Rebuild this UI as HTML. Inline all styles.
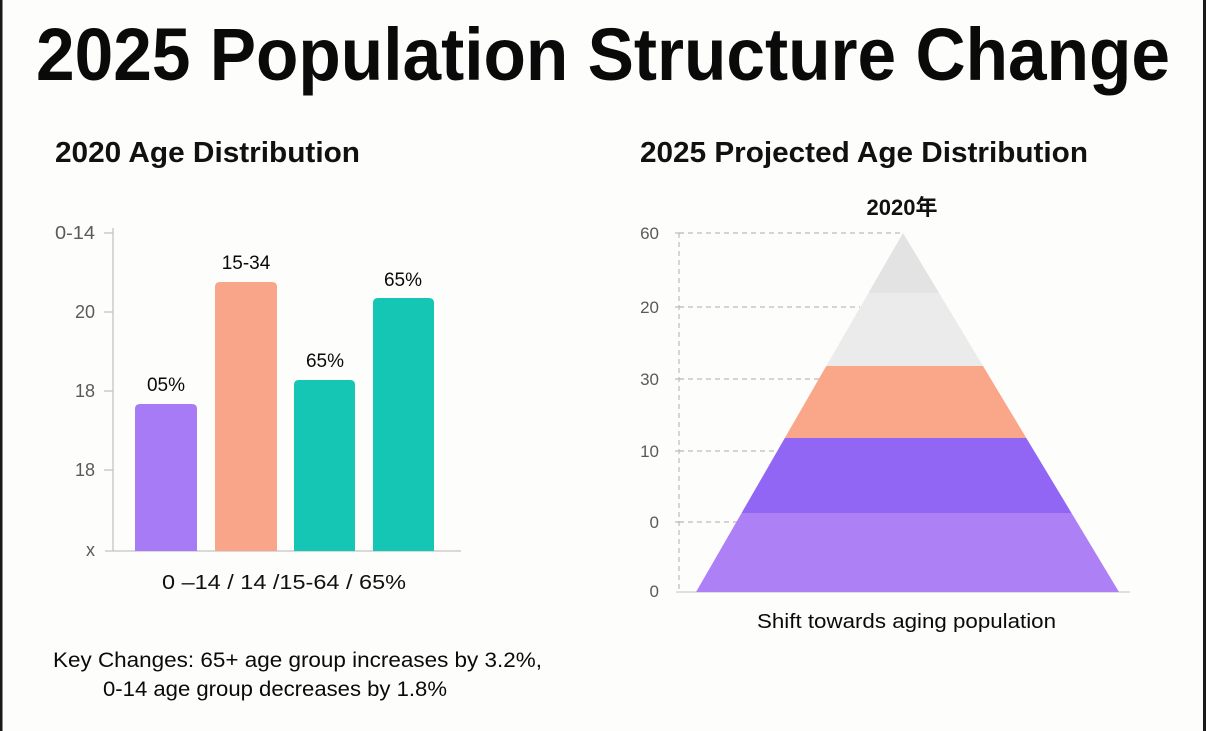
<!DOCTYPE html>
<html>
<head>
<meta charset="utf-8">
<style>
  html, body { margin:0; padding:0; background:#fdfdfb; }
  body { width:1206px; height:731px; overflow:hidden; }
  svg { display:block; }
  text { font-family: "Liberation Sans", "Noto Sans CJK SC", sans-serif; }
</style>
</head>
<body>
<svg width="1206" height="731" viewBox="0 0 1206 731" xmlns="http://www.w3.org/2000/svg">
  <rect x="0" y="0" width="1206" height="731" fill="#fdfdfb"/>
  <!-- side borders -->
  <rect x="0" y="0" width="2.5" height="731" fill="#1a1a1a"/>
  <rect x="1203" y="0" width="3" height="731" fill="#1a1a1a"/>

  <!-- Title -->
  <text x="36" y="80" font-size="74" font-weight="bold" fill="#0a0a0a" textLength="1134" lengthAdjust="spacingAndGlyphs">2025 Population Structure Change</text>

  <!-- Subtitles -->
  <text x="55" y="162" font-size="29" font-weight="bold" fill="#111" textLength="305" lengthAdjust="spacingAndGlyphs">2020 Age Distribution</text>
  <text x="640" y="162" font-size="29" font-weight="bold" fill="#111" textLength="448" lengthAdjust="spacingAndGlyphs">2025 Projected Age Distribution</text>

  <!-- ===== Bar chart ===== -->
  <g stroke="#c4c4c4" stroke-width="1.3">
    <line x1="113" y1="228" x2="113" y2="551"/>
    <line x1="105" y1="551" x2="461" y2="551"/>
    <line x1="104" y1="233" x2="113" y2="233"/>
    <line x1="104" y1="312" x2="113" y2="312"/>
    <line x1="104" y1="391" x2="113" y2="391"/>
    <line x1="104" y1="470" x2="113" y2="470"/>
  </g>
  <g font-size="18" fill="#5a5a5a" text-anchor="end">
    <text x="95" y="239" textLength="40" lengthAdjust="spacingAndGlyphs">0-14</text>
    <text x="95" y="318">20</text>
    <text x="95" y="397">18</text>
    <text x="95" y="476">18</text>
    <text x="95" y="556">x</text>
  </g>

  <path d="M135,551 V409 Q135,404 140,404 H192 Q197,404 197,409 V551 Z" fill="#a87bf6"/>
  <path d="M215,551 V287 Q215,282 220,282 H272 Q277,282 277,287 V551 Z" fill="#f9a589"/>
  <path d="M294,551 V385 Q294,380 299,380 H350 Q355,380 355,385 V551 Z" fill="#16c6b4"/>
  <path d="M373,551 V303 Q373,298 378,298 H429 Q434,298 434,303 V551 Z" fill="#16c6b4"/>

  <g font-size="19" fill="#0a0a0a" text-anchor="middle">
    <text x="166" y="391">05%</text>
    <text x="246" y="269">15-34</text>
    <text x="325" y="367">65%</text>
    <text x="403" y="286">65%</text>
  </g>
  <text x="162" y="589" font-size="20" fill="#111" textLength="244" lengthAdjust="spacingAndGlyphs">0 –14 / 14 /15-64 / 65%</text>

  <!-- Key changes -->
  <text x="53" y="667" font-size="21" fill="#0a0a0a" textLength="489" lengthAdjust="spacingAndGlyphs">Key Changes: 65+ age group increases by 3.2%,</text>
  <text x="103" y="696" font-size="21" fill="#0a0a0a" textLength="344" lengthAdjust="spacingAndGlyphs">0-14 age group decreases by 1.8%</text>

  <!-- ===== Pyramid ===== -->
  <text x="902" y="215" font-size="22" font-weight="bold" fill="#111" text-anchor="middle">2020年</text>

  <g stroke="#bdbdbd" stroke-width="1.2" stroke-dasharray="5 4" fill="none">
    <line x1="679" y1="233" x2="679" y2="592"/>
    <line x1="679" y1="233" x2="903" y2="233"/>
    <line x1="679" y1="307" x2="860" y2="307"/>
    <line x1="679" y1="379" x2="819" y2="379"/>
    <line x1="679" y1="451" x2="777" y2="451"/>
    <line x1="679" y1="522" x2="737" y2="522"/>
  </g>
  <g stroke="#bdbdbd" stroke-width="1.2">
    <line x1="675" y1="233" x2="684" y2="233"/>
    <line x1="675" y1="307" x2="684" y2="307"/>
    <line x1="675" y1="379" x2="684" y2="379"/>
    <line x1="675" y1="451" x2="684" y2="451"/>
    <line x1="675" y1="522" x2="684" y2="522"/>
    <line x1="676" y1="592" x2="1130" y2="592" stroke="#cfcfcf"/>
  </g>
  <g font-size="17" fill="#5a5a5a" text-anchor="end">
    <text x="659" y="239">60</text>
    <text x="659" y="313">20</text>
    <text x="659" y="385">30</text>
    <text x="659" y="457">10</text>
    <text x="659" y="528">0</text>
    <text x="659" y="597">0</text>
  </g>

  <polygon points="903,233 939.1,293 868.4,293" fill="#e3e3e3"/>
  <polygon points="868.4,293 939.1,293 983,366 826.3,366" fill="#ebebeb"/>
  <polygon points="826.3,366 983,366 1026.3,438 784.8,438" fill="#f9a689"/>
  <polygon points="784.8,438 1026.3,438 1071.5,513 741.6,513" fill="#9166f4"/>
  <polygon points="741.6,513 1071.5,513 1119,592 696,592" fill="#ae80f6"/>

  <text x="757" y="628" font-size="20" fill="#0a0a0a" textLength="299" lengthAdjust="spacingAndGlyphs">Shift towards aging population</text>
</svg>
</body>
</html>
